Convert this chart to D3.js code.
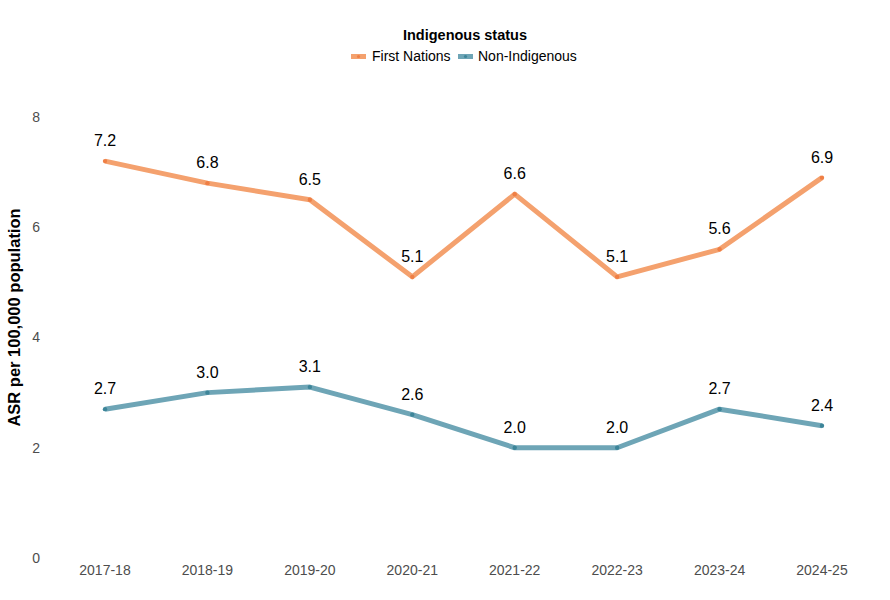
<!DOCTYPE html>
<html>
<head>
  <meta charset="utf-8">
  <title>ASR by Indigenous status</title>
  <script src="https://d3js.org/d3.v7.min.js"></script>
  <style>
    body { margin: 0; background: #fff; font-family: Arial, "Liberation Sans", sans-serif; }
  </style>
</head>
<body>
  <script>
    // Chart data
    const years = ["2017-18", "2018-19", "2019-20", "2020-21", "2021-22", "2022-23", "2023-24", "2024-25"];
    const firstNations = [7.2, 6.8, 6.5, 5.1, 6.6, 5.1, 5.6, 6.9];
    const nonIndigenous = [2.7, 3.0, 3.1, 2.6, 2.0, 2.0, 2.7, 2.4];
    const yTicks = [0, 2, 4, 6, 8];
    const seriesNames = ["First Nations", "Non-Indigenous"];

    const series = [
      { name: seriesNames[0], values: firstNations, line: "#f4a16e", point: "#ef7f45" },
      { name: seriesNames[1], values: nonIndigenous, line: "#6ea5b6", point: "#3d8599" }
    ];

    const width = 890, height = 600;

    const svg = d3.select("body")
      .append("svg")
      .attr("width", width)
      .attr("height", height);

    // x scale: point scale over the years
    const x = d3.scalePoint()
      .domain(years)
      .range([105, 822]);

    const y = d3.scaleLinear()
      .domain([0, 8])
      .range([558, 117]);

    // y tick labels (no grid lines, no axis line)
    svg.selectAll(".ytick")
      .data(yTicks)
      .enter()
      .append("text")
      .attr("x", 40)
      .attr("y", (d) => y(d))
      .attr("dy", "0.35em")
      .attr("text-anchor", "end")
      .attr("font-size", 14)
      .attr("fill", "#4d4d4d")
      .text((d) => d);

    // x tick labels
    svg.selectAll(".xtick")
      .data(years)
      .enter()
      .append("text")
      .attr("x", (d) => x(d))
      .attr("y", 575)
      .attr("text-anchor", "middle")
      .attr("font-size", 14)
      .attr("fill", "#4d4d4d")
      .text((d) => d);

    // y axis title
    svg.append("text")
      .attr("transform", "translate(20," + ((y(0) + y(8)) / 2 - 20) + ") rotate(-90)")
      .attr("text-anchor", "middle")
      .attr("font-size", 16.5)
      .attr("font-weight", "bold")
      .attr("fill", "#000")
      .text("ASR per 100,000 population");

    const line = d3.line()
      .x((d, i) => x(years[i]))
      .y((d) => y(d));

    series.forEach(function(s) {
      svg.append("path")
        .datum(s.values)
        .attr("d", line)
        .attr("fill", "none")
        .attr("stroke", s.line)
        .attr("stroke-width", 5)
        .attr("stroke-linejoin", "round");

      svg.selectAll(null)
        .data(s.values)
        .enter()
        .append("circle")
        .attr("cx", (d, i) => x(years[i]))
        .attr("cy", (d) => y(d))
        .attr("r", 2.2)
        .attr("fill", s.point);

      svg.selectAll(null)
        .data(s.values)
        .enter()
        .append("text")
        .attr("x", (d, i) => x(years[i]))
        .attr("y", (d) => y(d) - 15)
        .attr("text-anchor", "middle")
        .attr("font-size", 16)
        .attr("fill", "#000")
        .text((d) => d.toFixed(1));
    });

    // Legend
    svg.append("text")
      .attr("x", 465)
      .attr("y", 40)
      .attr("text-anchor", "middle")
      .attr("font-size", 14.5)
      .attr("font-weight", "bold")
      .text("Indigenous status");

    const legendItems = [
      { x: 351, textX: 372 },
      { x: 458, textX: 478 }
    ];

    legendItems.forEach(function(l, i) {
      const s = series[i];
      svg.append("rect")
        .attr("x", l.x)
        .attr("y", 54)
        .attr("width", 15)
        .attr("height", 5)
        .attr("fill", s.line);
      svg.append("circle")
        .attr("cx", l.x + 7.5)
        .attr("cy", 56.5)
        .attr("r", 1.6)
        .attr("fill", s.point);
      svg.append("text")
        .attr("x", l.textX)
        .attr("y", 61)
        .attr("font-size", 14)
        .attr("fill", "#000")
        .text(s.name);
    });
  </script>
</body>
</html>
